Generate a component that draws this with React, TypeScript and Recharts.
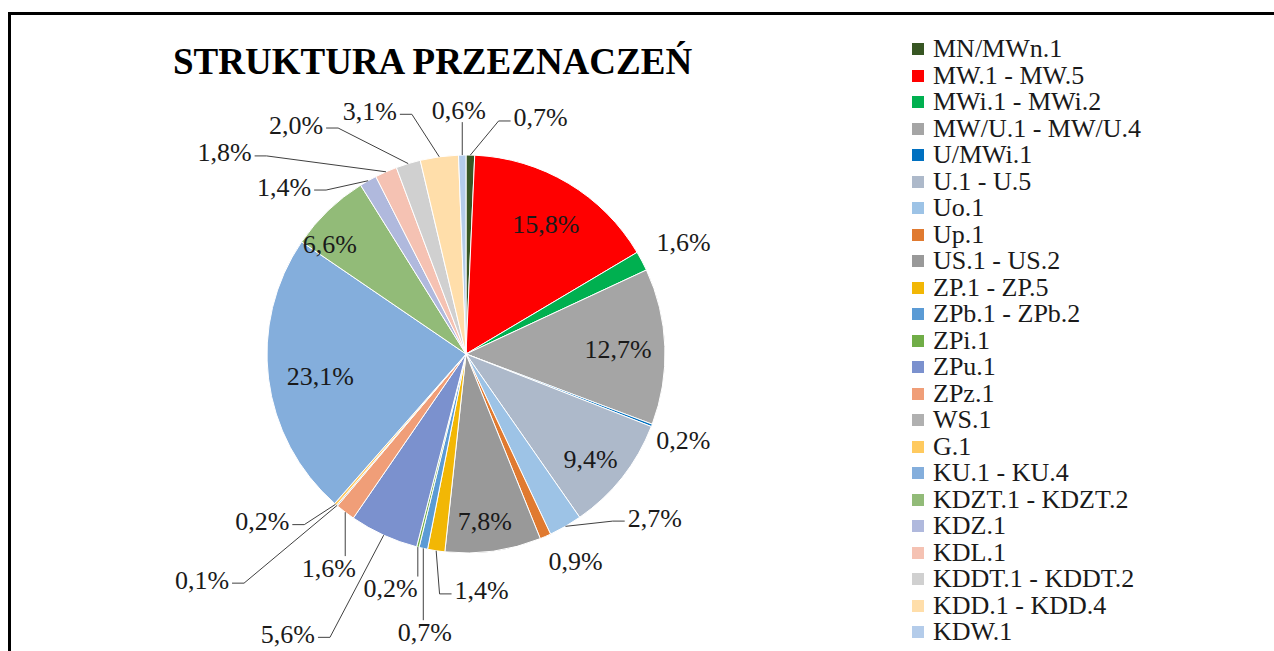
import React from 'react';
import { PieChart, Pie, Cell, Legend } from 'recharts';

// ---------- data ----------
const categories = [
  'MN/MWn.1', 'MW.1 - MW.5', 'MWi.1 - MWi.2', 'MW/U.1 - MW/U.4', 'U/MWi.1', 'U.1 - U.5',
  'Uo.1', 'Up.1', 'US.1 - US.2', 'ZP.1 - ZP.5', 'ZPb.1 - ZPb.2', 'ZPi.1', 'ZPu.1', 'ZPz.1',
  'WS.1', 'G.1', 'KU.1 - KU.4', 'KDZT.1 - KDZT.2', 'KDZ.1', 'KDL.1', 'KDDT.1 - KDDT.2',
  'KDD.1 - KDD.4', 'KDW.1',
];
const shares = [
  0.7, 15.8, 1.6, 12.7, 0.2, 9.4, 2.7, 0.9, 7.8, 1.4, 0.7, 0.2, 5.6, 1.6, 0.1, 0.2, 23.1, 6.6,
  1.4, 1.8, 2.0, 3.1, 0.6,
];
const sliceColors = [
  '#375623', '#FF0000', '#00B050', '#A5A5A5', '#0070C0', '#ADB9CA', '#9DC3E6', '#E07A30',
  '#999999', '#F2B705', '#5B9BD5', '#70AD47', '#7B91CE', '#F09E78', '#B0B0B0', '#FFCA5F',
  '#84AEDC', '#92BB78', '#B0B9DD', '#F5C2B3', '#D0D0D0', '#FFDEAA', '#B4CCEA',
];
const title = 'STRUKTURA PRZEZNACZEŃ';

// ---------- label layout (not data) ----------
type Leader = 'none' | 'h' | 'v';
const labelShift = [16.3, 0.8, 0.7, 0.5, 0.6, 2, -19, -4.3, 1.5, -12.4, -4, 3.8, 8, -4.7, 9, 9.6, -1.5, -7.4, -18, -26.5, -19.7, -13.9, -0.6];
const labelRadius = [1.244, 0.763, 1.229, 0.764, 1.175, 0.82, 1.257, 1.18, 0.849, 1.193, 1.413, 1.238, 1.669, 1.278, 1.747, 1.326, 0.741, 0.878, 1.241, 1.579, 1.433, 1.312, 1.226];
const labelLeader: Leader[] = ['h', 'none', 'none', 'none', 'none', 'none', 'h', 'none', 'none', 'h', 'v', 'v', 'h', 'v', 'h', 'h', 'none', 'none', 'h', 'h', 'h', 'h', 'v'];

const data = categories.map((name, i) => ({ name, value: shares[i] }));

const RAD = Math.PI / 180;
const FONT = 'Liberation Serif, Times New Roman, serif';
const LABEL_SIZE = 26;

const fmt = (v: number) => v.toFixed(1).replace('.', ',') + '%';
const textWidth = (s: string, size: number) => {
  let w = 0;
  for (const ch of s) {
    if (ch === ',') w += 0.25;
    else if (ch === '%') w += 0.833;
    else w += 0.5;
  }
  return w * size;
};

const renderLabel = (props: any) => {
  const { cx, cy, midAngle, outerRadius, index } = props;
  const text = fmt(shares[index]);
  const a = (midAngle - labelShift[index]) * RAD;
  const r = outerRadius * labelRadius[index];
  const tx = cx + r * Math.cos(a);
  const ty = cy - r * Math.sin(a);
  const sx = cx + outerRadius * Math.cos(midAngle * RAD);
  const sy = cy - outerRadius * Math.sin(midAngle * RAD);
  const w = textWidth(text, LABEL_SIZE);
  let path: string | null = null;
  const kind = labelLeader[index];
  if (kind === 'h') {
    const dir = tx > sx ? 1 : -1;
    const ex = tx - dir * (w / 2 + 3);
    const ey = ty + 3;
    const bx = ex - dir * 12;
    path = `M${sx},${sy}L${bx},${ey}L${ex},${ey}`;
  } else if (kind === 'v') {
    const dir = ty > sy ? 1 : -1;
    const ey = ty - dir * 12;
    path = `M${sx},${sy}L${sx},${ey}`;
  }
  return (
    <g key={`lbl-${index}`}>
      {path && <path d={path} stroke="#404040" strokeWidth={1} fill="none" />}
      <text
        x={tx}
        y={ty}
        textAnchor="middle"
        dominantBaseline="central"
        fontSize={LABEL_SIZE}
        style={{ fontFamily: FONT }}
        fill="#1a1a1a"
      >
        {text}
      </text>
    </g>
  );
};

const renderLegend = () => (
  <div style={{ fontFamily: FONT, fontSize: 26, color: '#1a1a1a' }}>
    {categories.map((c, i) => (
      <div key={c} style={{ display: 'flex', alignItems: 'center', height: 26.5, whiteSpace: 'nowrap' }}>
        <span style={{ width: 12, height: 12, background: sliceColors[i], marginRight: 9, flex: 'none' }} />
        <span style={{ lineHeight: '26.5px', fontFamily: FONT }}>{c}</span>
      </div>
    ))}
  </div>
);

export default function App() {
  return (
    <div style={{ position: 'relative', width: 1274, height: 651, overflow: 'hidden', background: '#fff' }}>
      <style>{'html,body{margin:0;padding:0;overflow:hidden;background:#fff}'}</style>
      <div
        style={{
          position: 'absolute',
          left: 8,
          top: 12,
          width: 1300,
          height: 700,
          borderLeft: '3px solid #000',
          borderTop: '3px solid #000',
        }}
      />
      <div style={{ position: 'absolute', left: 0, top: 0 }}>
        <PieChart width={1274} height={651} margin={{ top: 0, right: 0, bottom: 0, left: 0 }}>
          <Pie
            data={data}
            dataKey="value"
            nameKey="name"
            cx={466}
            cy={354}
            outerRadius={199}
            startAngle={90}
            endAngle={-270}
            stroke="#ffffff"
            strokeWidth={1}
            label={renderLabel}
            labelLine={false}
            isAnimationActive={false}
          >
            {data.map((d, i) => (
              <Cell key={d.name} fill={sliceColors[i]} />
            ))}
          </Pie>
          <Legend
            layout="vertical"
            align="right"
            verticalAlign="middle"
            content={renderLegend}
            wrapperStyle={{ left: 912, top: 36, right: 'auto', width: 340 }}
          />
        </PieChart>
      </div>
      <svg width={1274} height={651} style={{ position: 'absolute', left: 0, top: 0, pointerEvents: 'none' }}>
        <text x={173} y={74} style={{ fontFamily: FONT }} fontWeight="bold" fontSize={37} fill="#000">
          {title}
        </text>
      </svg>
    </div>
  );
}
